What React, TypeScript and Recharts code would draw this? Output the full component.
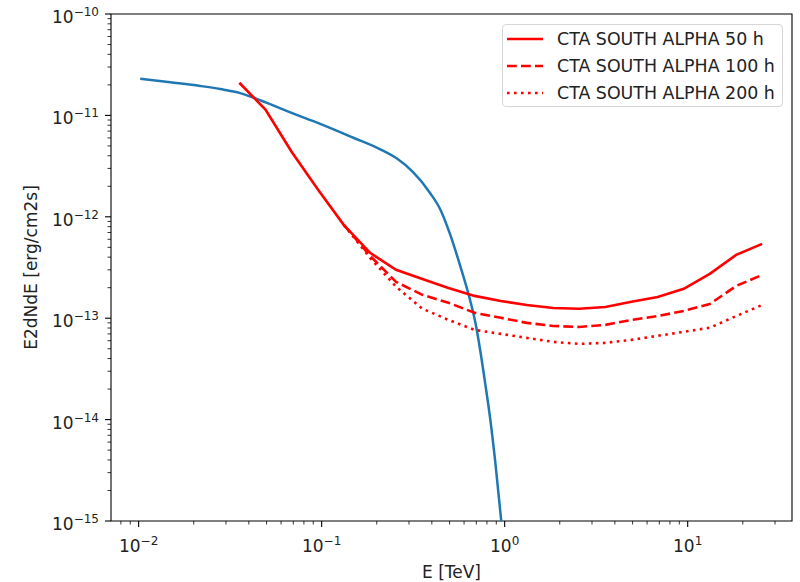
import { LineChart, Line, XAxis, YAxis, Legend, ReferenceArea } from "recharts";

// energies (TeV) of the sensitivity points
const sensEnergy = [
  0.0355, 0.0493, 0.0685, 0.0952, 0.132, 0.184, 0.255, 0.355, 0.493, 0.685,
  0.952, 1.32, 1.84, 2.55, 3.55, 4.93, 6.85, 9.52, 13.2, 18.4, 25.5,
];
const sens50h = [
  2.1e-11, 1.14e-11, 4.38e-12, 1.87e-12, 8.34e-13, 4.41e-13, 3.0e-13, 2.44e-13,
  1.99e-13, 1.66e-13, 1.48e-13, 1.35e-13, 1.26e-13, 1.24e-13, 1.29e-13,
  1.45e-13, 1.62e-13, 1.95e-13, 2.74e-13, 4.21e-13, 5.41e-13,
];
// 100 h and 200 h curves start at the 5th energy point
const sens100h = [
  8.34e-13, 4.12e-13, 2.28e-13, 1.7e-13, 1.42e-13, 1.13e-13, 1.01e-13, 8.99e-14,
  8.39e-14, 8.2e-14, 8.59e-14, 9.62e-14, 1.05e-13, 1.18e-13, 1.38e-13, 2.08e-13,
  2.67e-13,
];
const sens200h = [
  8.34e-13, 3.94e-13, 2.04e-13, 1.24e-13, 9.62e-14, 7.67e-14, 7.0e-14, 6.4e-14,
  5.84e-14, 5.58e-14, 5.71e-14, 6.11e-14, 6.7e-14, 7.34e-14, 8.05e-14, 1.05e-13,
  1.35e-13,
];

// source model
const modelEnergy = [
  0.0102, 0.0149, 0.0217, 0.0279, 0.0359, 0.0423, 0.0523, 0.0648, 0.0982, 0.149,
  0.209, 0.259, 0.316, 0.392, 0.445, 0.504, 0.571, 0.64, 0.69, 0.735, 0.782,
  0.833, 0.887, 0.958,
];
const modelFlux = [
  2.3e-11, 2.12e-11, 1.95e-11, 1.82e-11, 1.66e-11, 1.5e-11, 1.29e-11, 1.1e-11,
  8.25e-12, 6.02e-12, 4.63e-12, 3.73e-12, 2.76e-12, 1.71e-12, 1.18e-12, 6.66e-13,
  3.3e-13, 1.63e-13, 9.26e-14, 4.83e-14, 2.3e-14, 1.03e-14, 3.93e-15, 1.0e-15,
];

const seriesNames = [
  "CTA SOUTH ALPHA 50 h",
  "CTA SOUTH ALPHA 100 h",
  "CTA SOUTH ALPHA 200 h",
];
const seriesDash = ["", "9.8 4.2", "2.6 4.4"];

const xExponents = [-2, -1, 0, 1];
const yExponents = [-15, -14, -13, -12, -11, -10];
const xDomain = [0.007063, 37.15];
const yDomain = [1e-15, 1e-10];

const FONT = "'DejaVu Sans', sans-serif";
const TXT = "#222";
const FS = 17;

const zip = (xs: number[], ys: number[]) => ys.map((y, i) => ({ x: xs[i], y }));
const curve50 = zip(sensEnergy, sens50h);
const curve100 = zip(sensEnergy.slice(4), sens100h);
const curve200 = zip(sensEnergy.slice(4), sens200h);
const model = zip(modelEnergy, modelFlux);

function logTicks(exps: number[], lo: number, hi: number) {
  const out: number[] = [];
  for (let e = exps[0] - 1; e <= exps[exps.length - 1]; e++) {
    for (let m = 1; m < 10; m++) {
      const v = m * Math.pow(10, e);
      if (v >= lo * 0.9999 && v <= hi * 1.0001) out.push(v);
    }
  }
  return out;
}
const xTicks = logTicks(xExponents, xDomain[0], xDomain[1]);
const yTicks = logTicks(yExponents, yDomain[0], yDomain[1]);

const majorExp = (v: number) => {
  const l = Math.log10(v);
  const e = Math.round(l);
  return Math.abs(l - e) < 1e-6 ? e : null;
};
const expText = (e: number) => (e < 0 ? "\u2212" + -e : String(e));

function XTick(props: any) {
  const { x, y, payload } = props;
  const e = majorExp(payload.value);
  const major = e !== null;
  return (
    <g>
      <line x1={x} x2={x} y1={y} y2={y + (major ? 6 : 3.5)} stroke="#000" strokeWidth={major ? 1.1 : 0.8} />
      {major && (
        <text x={x} y={y + 31} textAnchor="middle" fontSize={FS} fontFamily={FONT} fill={TXT}>
          10
          <tspan dy={-7} fontSize={12}>{expText(e as number)}</tspan>
        </text>
      )}
    </g>
  );
}

function YTick(props: any) {
  const { x, y, payload } = props;
  const e = majorExp(payload.value);
  const major = e !== null;
  return (
    <g>
      <line x1={x - (major ? 6 : 3.5)} x2={x} y1={y} y2={y} stroke="#000" strokeWidth={major ? 1.1 : 0.8} />
      {major && (
        <text x={x - 12} y={y + 9} textAnchor="end" fontSize={FS} fontFamily={FONT} fill={TXT}>
          10
          <tspan dy={-7} fontSize={12}>{expText(e as number)}</tspan>
        </text>
      )}
    </g>
  );
}

function LegendBox() {
  return (
    <div
      style={{
        width: 281,
        height: 83,
        boxSizing: "border-box",
        border: "1px solid #d6d6d6",
        borderRadius: 4,
        background: "rgba(255,255,255,0.8)",
        fontFamily: FONT,
        fontSize: 17.4,
        color: TXT,
        paddingLeft: 4,
      }}
    >
      {seriesNames.map((name, i) => (
        <div key={name} style={{ display: "flex", alignItems: "center", height: 27 }}>
          <svg width={36} height={10}>
            <line x1={0} x2={36} y1={5} y2={5} stroke="#ff0000" strokeWidth={2.6} strokeDasharray={seriesDash[i] || undefined} />
          </svg>
          <span style={{ marginLeft: 14, whiteSpace: "nowrap" }}>{name}</span>
        </div>
      ))}
    </div>
  );
}

export default function App() {
  return (
    <div style={{ position: "absolute", left: 0, top: 0, background: "#fff" }}>
      <LineChart width={800} height={582} margin={{ top: 14, right: 8, bottom: 0, left: 0 }}>
        <XAxis
          dataKey="x"
          type="number"
          scale="log"
          domain={xDomain}
          allowDataOverflow
          ticks={xTicks}
          interval={0}
          tick={<XTick />}
          tickLine={false}
          axisLine={false}
          tickSize={0}
          tickMargin={0}
          height={61}
          label={{
            content: ({ viewBox }: any) => (
              <text x={viewBox.x + viewBox.width / 2} y={viewBox.y + 57} textAnchor="middle" fontSize={FS} fontFamily={FONT} fill={TXT}>
                E [TeV]
              </text>
            ),
          }}
        />
        <YAxis
          dataKey="y"
          type="number"
          scale="log"
          domain={yDomain}
          allowDataOverflow
          ticks={yTicks}
          interval={0}
          tick={<YTick />}
          tickLine={false}
          axisLine={false}
          tickSize={0}
          tickMargin={0}
          width={111}
          label={{
            content: ({ viewBox }: any) => {
              const cx = viewBox.x + 37;
              const cy = viewBox.y + viewBox.height / 2;
              return (
                <text x={cx} y={cy} transform={`rotate(-90 ${cx} ${cy})`} textAnchor="middle" fontSize={FS} fontFamily={FONT} fill={TXT}>
                  E2dNdE [erg/cm2s]
                </text>
              );
            },
          }}
        />
        <ReferenceArea x1={xDomain[0]} x2={xDomain[1]} y1={yDomain[0]} y2={yDomain[1]} fill="none" stroke="#000" strokeWidth={1.1} ifOverflow="visible" />
        <Line data={model} dataKey="y" type="monotone" stroke="#1f77b4" strokeWidth={2.5} dot={false} isAnimationActive={false} />
        <Line data={curve50} dataKey="y" name={seriesNames[0]} type="linear" stroke="#ff0000" strokeWidth={2.6} dot={false} isAnimationActive={false} />
        <Line data={curve100} dataKey="y" name={seriesNames[1]} type="linear" stroke="#ff0000" strokeWidth={2.6} strokeDasharray={seriesDash[1]} dot={false} isAnimationActive={false} />
        <Line data={curve200} dataKey="y" name={seriesNames[2]} type="linear" stroke="#ff0000" strokeWidth={2.6} strokeDasharray={seriesDash[2]} dot={false} isAnimationActive={false} />
        <Legend
          layout="horizontal"
          verticalAlign="middle"
          align="center"
          content={() => <LegendBox />}
          wrapperStyle={{ left: 502, top: 24, width: 281, height: 83 }}
        />
      </LineChart>
    </div>
  );
}
